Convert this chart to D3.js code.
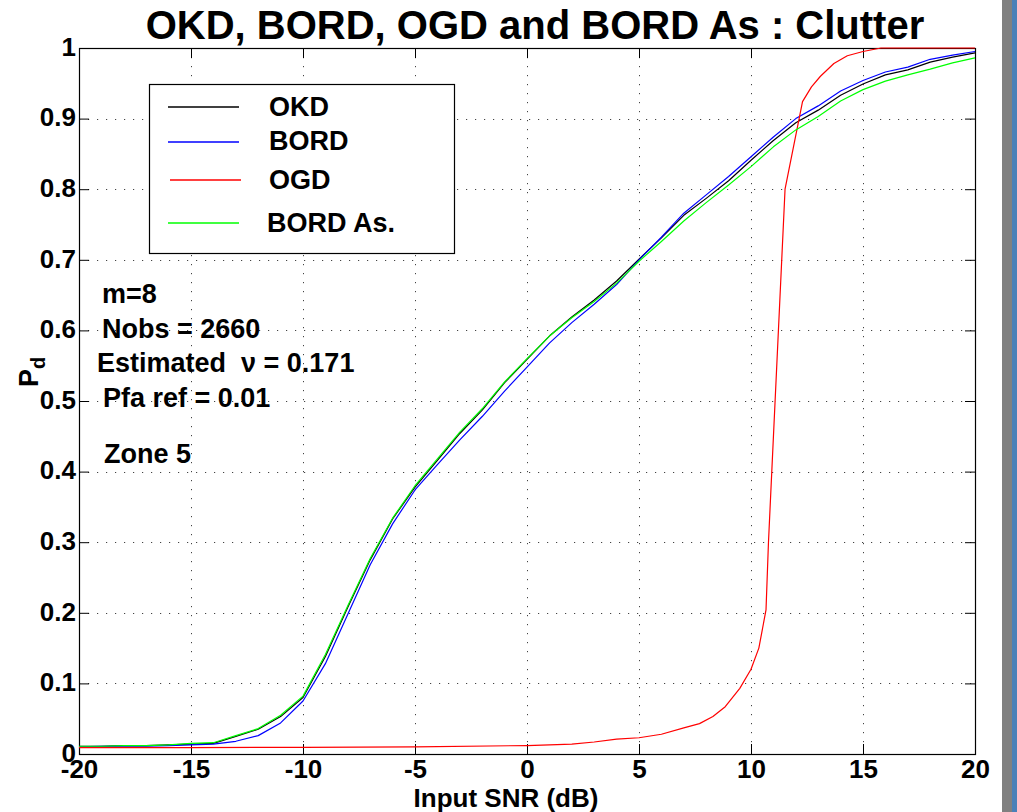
<!DOCTYPE html>
<html>
<head>
<meta charset="utf-8">
<script src="https://cdn.jsdelivr.net/npm/d3@7"></script>
<style>
  html, body { margin: 0; padding: 0; background: #fff; }
  svg { display: block; }
  text { font-family: "Liberation Sans", Arial, Helvetica, sans-serif; font-weight: bold; fill: #000; }
</style>
</head>
<body>
<svg id="chart" width="1017" height="812"></svg>
<script>
// ---------- data ----------
const snr = [-20,-19,-18,-17,-16,-15,-14,-13,-12,-11,-10,-9,-8,-7,-6,-5,-4,-3,-2,-1,0,1,2,3,4,5,6,7,8,9,10,11,12,13,14,15,16,17,18,19,20];
const okd = [0.011,0.011,0.012,0.012,0.013,0.014,0.015,
             0.025,0.035,0.053,0.080,
             0.138,0.208,0.275,0.333,0.378,
             0.416,0.454,0.487,0.526,0.559,
             0.592,0.619,0.643,0.670,0.701,
             0.731,0.763,0.787,0.812,0.841,
             0.869,0.894,0.912,0.933,0.949,
             0.962,0.969,0.980,0.987,0.993];
const bord = [0.010,0.011,0.011,0.011,0.012,0.013,0.014,
              0.018,0.026,0.044,0.075,
              0.128,0.198,0.268,0.326,0.374,
              0.410,0.445,0.478,0.514,0.548,
              0.582,0.611,0.637,0.665,0.700,
              0.732,0.766,0.792,0.818,0.846,
              0.874,0.900,0.918,0.939,0.954,
              0.966,0.973,0.984,0.990,0.995];
const bordAs = [0.011,0.011,0.012,0.012,0.013,0.015,0.016,
                0.026,0.036,0.055,0.082,
                0.141,0.210,0.277,0.334,0.380,
                0.418,0.456,0.489,0.527,0.560,
                0.592,0.618,0.641,0.667,0.698,
                0.726,0.755,0.781,0.806,0.832,
                0.860,0.884,0.903,0.925,0.941,
                0.953,0.962,0.970,0.979,0.986];
const ogdSnr = [-20,-15,-10,-5,0,2,3,4,5,6,7,7.7,8.3,8.85,9.5,10,10.35,10.67,10.78,11.52,12.3,12.7,13.1,13.7,14.3,15.0,15.8,20];
const ogd    = [0.009,0.009,0.0095,0.010,0.012,0.014,0.017,0.021,0.023,0.028,0.037,0.043,0.053,0.067,0.093,0.120,0.150,0.204,0.300,0.800,0.924,0.945,0.960,0.978,0.989,0.995,1.0,1.0];

const xTicks = [-20,-15,-10,-5,0,5,10,15,20];
const xTickLabels = ["-20","-15","-10","-5","0","5","10","15","20"];
const yTicks = [0,0.1,0.2,0.3,0.4,0.5,0.6,0.7,0.8,0.9,1];
const yTickLabels = ["0","0.1","0.2","0.3","0.4","0.5","0.6","0.7","0.8","0.9","1"];

const seriesNames = ["OKD","BORD","OGD","BORD As."];
const seriesColors = ["#000000","#0000ff","#ff0000","#00ff00"];
const annotations = ["m=8","Nobs = 2660","Estimated  \u03bd = 0.171","Pfa ref = 0.01","Zone 5"];

// ---------- layout ----------
const svg = d3.select("#chart");
const X0 = 79, X1 = 975, Y0 = 754, Y1 = 48;
const x = d3.scaleLinear().domain([-20, 20]).range([X0, X1]);
const y = d3.scaleLinear().domain([0, 1]).range([Y0, Y1]);

svg.append("rect").attr("width", 1017).attr("height", 812).attr("fill", "#fff");

// right-side window strip
svg.append("rect").attr("x", 1002).attr("y", 0).attr("width", 10).attr("height", 812).attr("fill", "#808080");
svg.append("rect").attr("x", 1012).attr("y", 0).attr("width", 5).attr("height", 812).attr("fill", "#4a80b8");

// grid
const grid = svg.append("g").attr("stroke", "#444").attr("stroke-width", 1).attr("stroke-dasharray", "1.2,7.8");
grid.selectAll("line.v").data(xTicks.slice(1, -1)).join("line")
  .attr("x1", d => x(d) + 0.5).attr("x2", d => x(d) + 0.5)
  .attr("y1", Y1).attr("y2", Y0);
grid.selectAll("line.h").data(yTicks.slice(1, -1)).join("line")
  .attr("y1", d => Math.round(y(d)) + 0.5).attr("y2", d => Math.round(y(d)) + 0.5)
  .attr("x1", X0).attr("x2", X1);

// axes (MATLAB style, ticks inside)
const fontSize = 27;
const tickFont = 26;
const xAxis = svg.append("g").attr("transform", `translate(0,${Y0})`)
  .call(d3.axisBottom(x).tickValues(xTicks).tickSize(-10).tickPadding(6)
        .tickFormat((d, i) => xTickLabels[i]));
const xAxisTop = svg.append("g").attr("transform", `translate(0,${Y1})`)
  .call(d3.axisTop(x).tickValues(xTicks).tickSize(-10).tickFormat(""));
const yAxis = svg.append("g").attr("transform", `translate(${X0},0)`)
  .call(d3.axisLeft(y).tickValues(yTicks).tickSize(-10).tickPadding(3)
        .tickFormat((d, i) => yTickLabels[i]));
const yAxisRight = svg.append("g").attr("transform", `translate(${X1},0)`)
  .call(d3.axisRight(y).tickValues(yTicks).tickSize(-10).tickFormat(""));
[xAxis, xAxisTop, yAxis, yAxisRight].forEach(g => {
  g.select(".domain").remove();
  g.selectAll(".tick line").attr("stroke", "#000").attr("stroke-width", 1);
  g.selectAll("text").attr("font-size", tickFont).attr("font-family", null)
    .style("font-weight", "bold").attr("fill", "#000");
});
yAxis.selectAll("text").attr("dy", "0.28em");

// box
svg.append("rect").attr("x", X0 + 0.5).attr("y", Y1 + 0.5)
  .attr("width", X1 - X0).attr("height", Y0 - Y1)
  .attr("fill", "none").attr("stroke", "#000").attr("stroke-width", 1.2);

// curves
const line = d3.line().x(d => x(d[0])).y(d => y(d[1]));
const curves = [
  snr.map((s, i) => [s, okd[i]]),
  snr.map((s, i) => [s, bord[i]]),
  ogdSnr.map((s, i) => [s, ogd[i]]),
  snr.map((s, i) => [s, bordAs[i]])
];
svg.append("g").selectAll("path").data(curves).join("path")
  .attr("d", line).attr("fill", "none")
  .attr("stroke", (d, i) => seriesColors[i]).attr("stroke-width", 1.2)
  .attr("stroke-linejoin", "round");

// legend
const lg = svg.append("g");
lg.append("rect").attr("x", 149.5).attr("y", 84.5).attr("width", 305).attr("height", 169)
  .attr("fill", "#fff").attr("stroke", "#000").attr("stroke-width", 1.2);
const legY = [107, 142, 180, 223];
const legTextY = [116, 150, 189, 232];
const legLineX = [[168, 239], [168, 239], [170, 241], [168, 239]];
const legTextX = [269, 269, 269, 267];
seriesNames.forEach((n, i) => {
  lg.append("line").attr("x1", legLineX[i][0]).attr("x2", legLineX[i][1])
    .attr("y1", legY[i]).attr("y2", legY[i])
    .attr("stroke", seriesColors[i]).attr("stroke-width", 1.3);
  lg.append("text").attr("x", legTextX[i]).attr("y", legTextY[i])
    .attr("font-size", fontSize).text(n);
});

// annotations
const annX = [102, 102, 97, 103, 104];
const annY = [303, 338, 372, 407, 463];
annotations.forEach((t, i) => {
  svg.append("text").attr("x", annX[i]).attr("y", annY[i]).attr("font-size", fontSize)
    .attr("xml:space", "preserve").style("white-space", "pre").text(t);
});

// title
svg.append("text").attr("x", 535).attr("y", 39).attr("text-anchor", "middle")
  .attr("font-size", 40).text("OKD, BORD, OGD and BORD As : Clutter");

// x label
svg.append("text").attr("x", 506).attr("y", 807).attr("text-anchor", "middle")
  .attr("font-size", 26).text("Input SNR (dB)");

// y label P_d
const yl = svg.append("text").attr("transform", "translate(38,372) rotate(-90)")
  .attr("text-anchor", "middle").attr("font-size", fontSize);
yl.append("tspan").text("P");
yl.append("tspan").attr("dy", 7).attr("font-size", 20).text("d");
</script>
</body>
</html>
